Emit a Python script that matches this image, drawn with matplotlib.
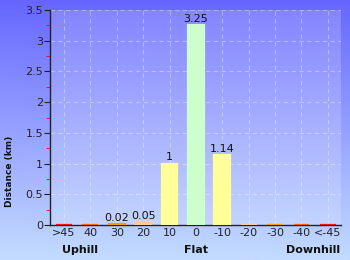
import numpy as np
import matplotlib
matplotlib.use("Agg")
import matplotlib.pyplot as plt
from matplotlib.colors import LinearSegmentedColormap
from matplotlib.ticker import MultipleLocator

categories = [">45", "40", "30", "20", "10", "0", "-10", "-20", "-30", "-40", "<-45"]
values = [0, 0, 0.02, 0.05, 1, 3.25, 1.14, 0, 0, 0, 0]
value_labels = ["", "", "0.02", "0.05", "1", "3.25", "1.14", "", "", "", ""]
bar_colors = ["#ff1111", "#ff6600", "#ff9900", "#ffcc99", "#ffff99", "#ccffcc",
              "#ffff99", "#ffcc99", "#ff9900", "#ff6600", "#ff1111"]
groups = ["Uphill", "Flat", "Downhill"]

fig = plt.figure(figsize=(3.5, 2.6), dpi=100)

# background gradient
bg = fig.add_axes([0, 0, 1, 1], zorder=0)
cmap = LinearSegmentedColormap.from_list("bg", ["#6666ff", "#c4dcff"])
grad = np.linspace(0, 1, 256).reshape(-1, 1)
bg.imshow(grad, aspect="auto", cmap=cmap, extent=[0, 1, 0, 1], origin="upper")
bg.set_axis_off()

ax = fig.add_axes([50/350, 35/260, 291/350, 215/260], zorder=1)
ax.patch.set_facecolor("white")
ax.patch.set_alpha(0.18)

x = np.arange(len(categories))
ax.bar(x, values, width=0.6, color=bar_colors, edgecolor=bar_colors, linewidth=1.6, zorder=3)
for xi, v, lab in zip(x, values, value_labels):
    if lab:
        ax.text(xi, v + 0.02, lab, ha="center", va="bottom", fontsize=8, color="#111111", zorder=4)

ax.set_xlim(-0.53, 10.5)
ax.set_ylim(0, 3.5)
ax.set_xticks(x)
ax.set_xticklabels(categories, fontsize=8, color="#222222")
ax.yaxis.set_major_locator(MultipleLocator(0.5))
ax.yaxis.set_minor_locator(MultipleLocator(0.25))
ax.set_yticklabels([("%g" % t) for t in ax.get_yticks()], fontsize=8, color="#222222")
ax.tick_params(axis="x", length=0, pad=2)
ax.tick_params(axis="y", which="major", length=4, color="#222222", pad=1)
ax.tick_params(axis="y", which="minor", length=3, color="#ff0000")
ax.grid(True, which="major", linestyle=(0, (4, 3)), color="white", alpha=0.35, linewidth=0.8, zorder=1)
ax.set_axisbelow(True)
for s in ["top", "right"]:
    ax.spines[s].set_visible(False)
for s in ["left", "bottom"]:
    ax.spines[s].set_color("#222222")
    ax.spines[s].set_linewidth(1)

ax.set_ylabel("Distance (km)", fontsize=6.5, fontweight="bold", color="#111111")
ax.yaxis.set_label_coords(-0.124, 0.25)

gy = 1 - 250/260
fig.text(80/350, gy, groups[0], ha="center", va="center", fontsize=8, fontweight="bold", color="#111111")
fig.text(196/350, gy, groups[1], ha="center", va="center", fontsize=8, fontweight="bold", color="#111111")
fig.text(313/350, gy, groups[2], ha="center", va="center", fontsize=8, fontweight="bold", color="#111111")

fig.savefig("out.png", dpi=100)
